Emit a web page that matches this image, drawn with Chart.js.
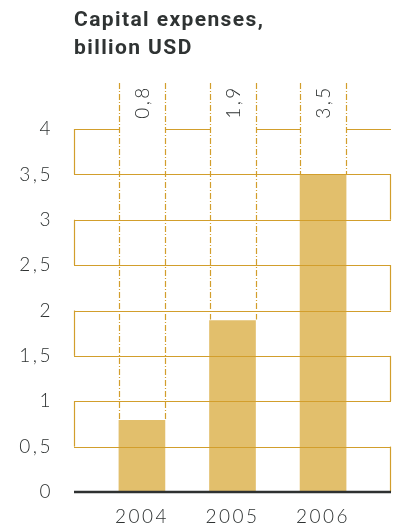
<!DOCTYPE html>
<html>
<head>
<meta charset="utf-8">
<script src="https://cdn.jsdelivr.net/npm/chart.js@4.4.1/dist/chart.umd.min.js"></script>
<style>
  html, body { margin: 0; padding: 0; background: #fff; }
  #wrap { position: relative; width: 394px; height: 527px; }
  #title {
    position: absolute; left: 74px; top: 5px;
    font-family: Roboto, "Liberation Sans", sans-serif;
    font-weight: bold; font-size: 21px; line-height: 28px;
    letter-spacing: 1.4px; color: #2f3333;
  }
  canvas { position: absolute; left: 0; top: 0; }
</style>
</head>
<body>
<div id="wrap">
  <canvas id="chart" width="394" height="527"></canvas>
  <div id="title">Capital expenses,<br>billion USD</div>
</div>
<script>
// capex per year, billion USD
const years = [2004, 2005, 2006];
const capex = [0.8, 1.9, 3.5];
const valueLabels = ['0,8', '1,9', '3,5'];

const barColor = '#e2bf6c';
const gridColor = '#d29e2c';
const textColor = '#2e3232';
const tickFont = { family: 'Lato, "Liberation Sans", sans-serif', size: 19, weight: '300' };

// wide, airy digits everywhere on the canvas
const spacingPlugin = {
  id: 'spacing',
  beforeDraw(chart) { chart.ctx.letterSpacing = '2.5px'; }
};

// zig-zag frame, dash-dot column guides and rotated value labels
const framePlugin = {
  id: 'frame',
  afterDatasetsDraw(chart) {
    const { ctx, chartArea, scales } = chart;
    const y = scales.y;
    const left = chartArea.left, right = chartArea.right;
    const bars = chart.getDatasetMeta(0).data;
    const guideTop = chartArea.top - 46;

    ctx.save();
    ctx.strokeStyle = gridColor;
    ctx.lineWidth = 1.2;

    // dash-dot guides from above the plot down to each bar top
    ctx.setLineDash([6, 2, 1, 2]);
    bars.forEach(b => {
      const half = b.width / 2 - 1;
      [b.x - half, b.x + half].forEach(x => {
        ctx.beginPath();
        ctx.moveTo(Math.round(x) + 0.5, guideTop);
        ctx.lineTo(Math.round(x) + 0.5, b.y);
        ctx.stroke();
      });
    });
    ctx.setLineDash([]);

    // horizontal lines; the top one breaks at each column
    const ticks = y.ticks.map(t => t.value);
    ticks.forEach(v => {
      if (v === 0) return;
      const py = Math.round(y.getPixelForValue(v)) + 0.5;
      ctx.beginPath();
      if (v === y.max) {
        let x0 = left;
        bars.forEach(b => {
          const half = b.width / 2 - 1;
          ctx.moveTo(x0, py);
          ctx.lineTo(Math.round(b.x - half) + 0.5, py);
          x0 = Math.round(b.x + half) + 0.5;
        });
        ctx.moveTo(x0, py);
        ctx.lineTo(right, py);
      } else {
        ctx.moveTo(left, py);
        ctx.lineTo(right, py);
      }
      ctx.stroke();
    });

    // alternating side edges joining each band
    for (let i = 0; i < ticks.length - 1; i++) {
      const lo = ticks[i], hi = ticks[i + 1];
      const step = Math.round(lo / 0.5);
      const x = step % 2 === 1 ? Math.round(left) + 0.5 : Math.round(right) - 0.5;
      ctx.beginPath();
      ctx.moveTo(x, y.getPixelForValue(lo));
      ctx.lineTo(x, y.getPixelForValue(hi));
      ctx.stroke();
    }

    // baseline
    ctx.strokeStyle = '#2e3131';
    ctx.lineWidth = 2.5;
    ctx.beginPath();
    ctx.moveTo(left, y.getPixelForValue(0));
    ctx.lineTo(right, y.getPixelForValue(0));
    ctx.stroke();

    // values written vertically above the columns
    ctx.fillStyle = textColor;
    ctx.font = '300 19px Lato, "Liberation Sans", sans-serif';
    ctx.textAlign = 'center';
    ctx.textBaseline = 'middle';
    bars.forEach((b, i) => {
      ctx.save();
      ctx.translate(b.x, chartArea.top - 26);
      ctx.rotate(-Math.PI / 2);
      ctx.fillText(valueLabels[i], 1, 1);
      ctx.restore();
    });
    ctx.restore();
  }
};

new Chart(document.getElementById('chart'), {
  type: 'bar',
  data: {
    datasets: [{
      data: years.map((yr, i) => ({ x: yr, y: capex[i] })),
      backgroundColor: barColor,
      borderColor: 'rgba(255,255,255,0.6)',
      borderWidth: 1,
      barThickness: 48
    }]
  },
  options: {
    responsive: false,
    animation: false,
    layout: { padding: { top: 129, right: 3, left: 0, bottom: 0 } },
    plugins: { legend: { display: false }, tooltip: { enabled: false } },
    scales: {
      x: {
        type: 'linear',
        offset: false,
        min: 2003.25,
        max: 2006.75,
        afterBuildTicks: s => { s.ticks = years.map(v => ({ value: v })); },
        afterFit: s => { s.height = 35; },
        grid: { display: false },
        border: { display: false },
        ticks: {
          color: textColor,
          font: tickFont,
          padding: 5,
          callback: v => String(v)
        }
      },
      y: {
        min: 0,
        max: 4,
        afterFit: s => { s.width = 74; },
        grid: { display: false },
        border: { display: false },
        ticks: {
          stepSize: 0.5,
          color: textColor,
          font: tickFont,
          padding: 13,
          callback: v => String(v).replace('.', ',')
        }
      }
    }
  },
  plugins: [spacingPlugin, framePlugin]
});
</script>
</body>
</html>
